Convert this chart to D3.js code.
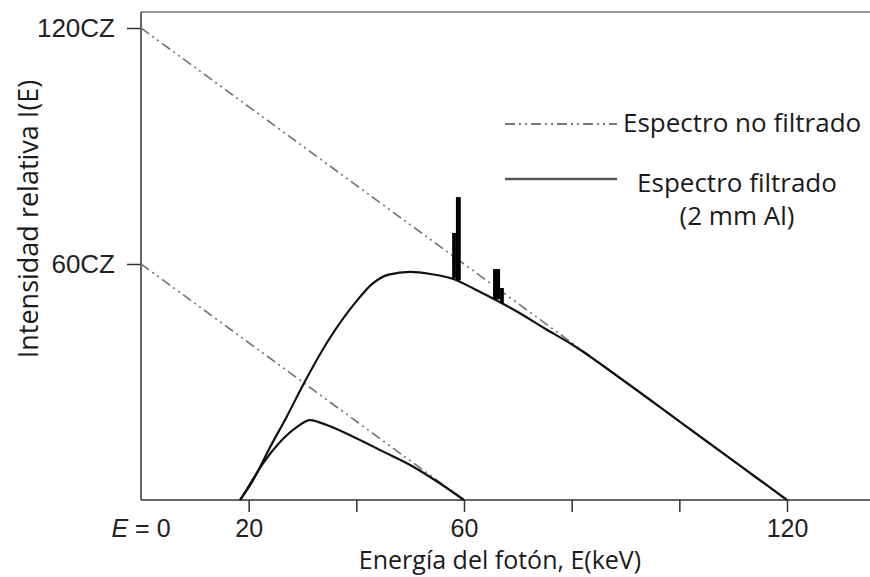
<!DOCTYPE html>
<meta charset="utf-8">
<style>
  body {margin: 0; background: #fff;}
  svg {display: block;}
  .tick text {font-family: 'Liberation Sans', Arial, sans-serif; fill: #222;}
  .lbl {font-family: 'Open Sans', sans-serif; fill: #1a1a1a;}
</style>

<svg width="870" height="577"></svg>

<script src="https://cdnjs.cloudflare.com/ajax/libs/d3/7.8.5/d3.min.js"></script>
<script>

// data
var xTicks = [20, 40, 60, 80, 100, 120];
var xTickLabels = {20: "20", 60: "60", 120: "120"};
var yTicks = [60, 120];

// unfiltered (straight) spectra, 120 kVp and 60 kVp
var unf120E = [0, 120], unf120I = [120, 0];
var unf60E = [0, 60], unf60I = [60, 0];

// filtered spectrum 120 kVp (2 mm Al)
var filt120E = [18.4, 20.8, 24, 27, 30, 35, 40, 43, 46, 50, 54, 58, 62, 66, 70, 75, 80, 90, 100, 110, 120];
var filt120I = [0, 5, 13.5, 21, 29, 41, 50.5, 55, 57.3, 58, 57.4, 56.2, 53.6, 50.8, 47.8, 43.6, 39.6, 30, 20, 10, 0];

// filtered spectrum 60 kVp
var filt60E = [18.4, 20, 22.7, 26, 29, 31.4, 33, 35, 40, 45, 50, 55, 60];
var filt60I = [0, 3.5, 9.4, 15, 18.6, 20.3, 19.8, 18.8, 15.7, 12.3, 8.9, 4.7, 0];

// characteristic lines (bars): energy start, end, base, top
var lineE0 = [57.8, 58.5, 65.4, 66.7];
var lineE1 = [58.5, 59.4, 66.7, 67.4];
var lineBase = [56.3, 55.8, 51, 50];
var lineTop = [67.9, 77, 58.7, 53.9];

var svg = d3.select("svg"),
    width = +svg.attr("width"),
    height = +svg.attr("height");

var x = d3.scaleLinear().domain([0, 120]).range([141, 787]);
var y = d3.scaleLinear().domain([0, 120]).range([500, 28]);

var topY = 12;

// frame
svg.append("line").attr("x1", x(0)).attr("x2", width).attr("y1", topY).attr("y2", topY)
  .style("stroke", "#777").style("stroke-width", 1.5);
svg.append("line").attr("x1", x(0)).attr("x2", x(0)).attr("y1", topY).attr("y2", y(0))
  .style("stroke", "#333").style("stroke-width", 1.5);
svg.append("line").attr("x1", x(0)).attr("x2", width).attr("y1", y(0)).attr("y2", y(0))
  .style("stroke", "#333").style("stroke-width", 1.5);

// axes
var xAxis = svg.append("g")
  .attr("transform", "translate(0," + y(0) + ")")
  .call(d3.axisBottom(x).tickValues(xTicks).tickSize(12).tickPadding(7.5)
    .tickFormat(function(d) { return xTickLabels[d] || ""; }));
xAxis.select(".domain").remove();
xAxis.selectAll(".tick line").style("stroke", "#333").style("stroke-width", 1.5);
xAxis.selectAll(".tick text").style("font-size", "25px");

var yAxis = svg.append("g")
  .attr("transform", "translate(" + x(0) + ",0)")
  .call(d3.axisLeft(y).tickValues(yTicks).tickSize(14).tickPadding(12)
    .tickFormat(function(d) { return d + "CZ"; }));
yAxis.select(".domain").remove();
yAxis.selectAll(".tick line").style("stroke", "#333").style("stroke-width", 1.5);
yAxis.selectAll(".tick text").style("font-size", "26px");

// E = 0 label
var e0 = svg.append("text")
  .attr("x", x(0)).attr("y", 537)
  .attr("text-anchor", "middle")
  .style("font-family", "'Liberation Sans', Arial, sans-serif")
  .style("font-size", "25px").style("fill", "#222");
e0.append("tspan").style("font-style", "italic").text("E");
e0.append("tspan").text(" = 0");

// lines
var line = d3.line()
  .x(function(d) { return x(d[0]); })
  .y(function(d) { return y(d[1]); });

var smooth = d3.line()
  .x(function(d) { return x(d[0]); })
  .y(function(d) { return y(d[1]); })
  .curve(d3.curveMonotoneX);

var dashStyle = "10,4,2,4,2,4";

[[unf120E, unf120I], [unf60E, unf60I]].forEach(function(s) {
  svg.append("path")
    .datum(d3.zip(s[0], s[1]))
    .attr("d", line)
    .style("fill", "none")
    .style("stroke", "#777")
    .style("stroke-width", 1.7)
    .style("stroke-dasharray", dashStyle);
});

[[filt120E, filt120I], [filt60E, filt60I]].forEach(function(s) {
  svg.append("path")
    .datum(d3.zip(s[0], s[1]))
    .attr("d", smooth)
    .style("fill", "none")
    .style("stroke", "#111")
    .style("stroke-width", 2.2);
});

// characteristic bars
svg.append("g").selectAll("rect")
  .data(d3.range(lineE0.length))
  .enter().append("rect")
  .attr("x", function(i) { return x(lineE0[i]); })
  .attr("width", function(i) { return x(lineE1[i]) - x(lineE0[i]); })
  .attr("y", function(i) { return y(lineTop[i]); })
  .attr("height", function(i) { return y(lineBase[i]) - y(lineTop[i]); })
  .style("fill", "#000");

// legend
svg.append("line").attr("x1", 505).attr("x2", 617).attr("y1", 124).attr("y2", 124)
  .style("stroke", "#777").style("stroke-width", 2).style("stroke-dasharray", dashStyle);
svg.append("text").attr("class", "lbl").attr("x", 623).attr("y", 132)
  .style("font-size", "26px").text("Espectro no filtrado");

svg.append("line").attr("x1", 505).attr("x2", 617).attr("y1", 179).attr("y2", 179)
  .style("stroke", "#555").style("stroke-width", 2.6);
svg.append("text").attr("class", "lbl").attr("x", 737).attr("y", 192)
  .attr("text-anchor", "middle").style("font-size", "26px").text("Espectro filtrado");
svg.append("text").attr("class", "lbl").attr("x", 737).attr("y", 225)
  .attr("text-anchor", "middle").style("font-size", "26px").text("(2 mm Al)");

// axis titles
svg.append("text").attr("class", "lbl")
  .attr("x", 500).attr("y", 569)
  .attr("text-anchor", "middle").style("font-size", "25px")
  .text("Energía del fotón, E(keV)");

svg.append("text").attr("class", "lbl")
  .attr("transform", "translate(38,219) rotate(-90)")
  .attr("text-anchor", "middle").style("font-size", "27px")
  .text("Intensidad relativa I(E)");

</script>
